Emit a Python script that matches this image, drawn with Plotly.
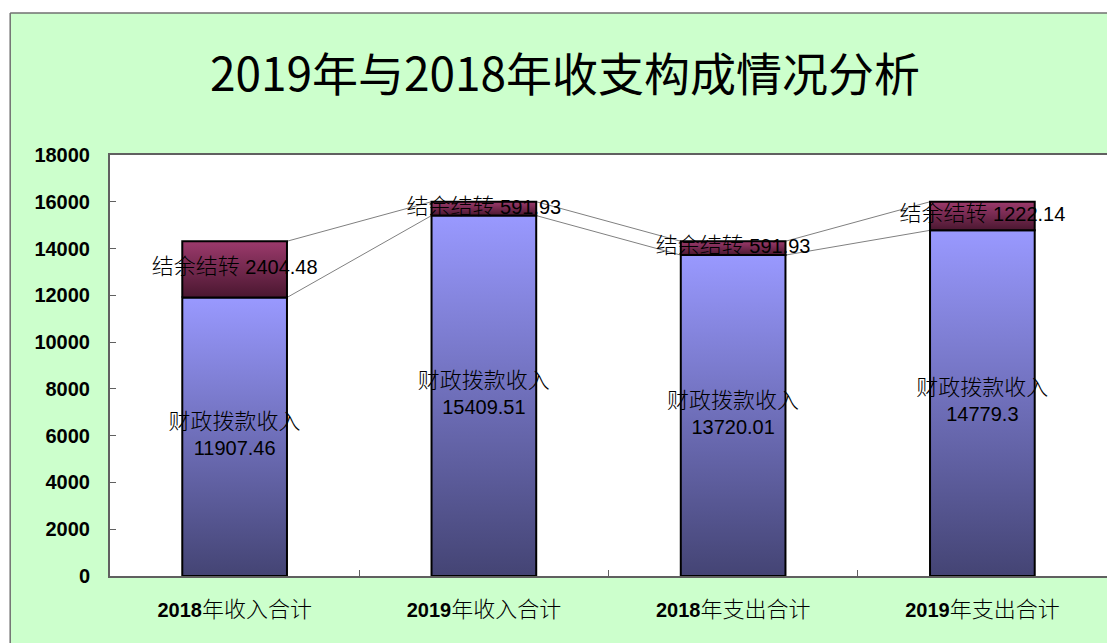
import plotly.graph_objects as go

categories = ["2018年收入合计", "2019年收入合计", "2018年支出合计", "2019年支出合计"]
years = ["2018", "2019", "2018", "2019"]
cat_rest = ["年收入合计", "年收入合计", "年支出合计", "年支出合计"]
base_values = [11907.46, 15409.51, 13720.01, 14779.3]
top_values = [2404.48, 591.93, 591.93, 1222.14]
base_name = "财政拨款收入"
top_name = "结余结转"
y_ticks = [0, 2000, 4000, 6000, 8000, 10000, 12000, 14000, 16000, 18000]
y_tick_text = [str(v) for v in y_ticks]

HALF = 0.21
OFF = 8  # page body margin
W, H = 1115 - OFF, 643 - OFF
L, T = 110 - OFF, 155 - OFF
R = W - (1109 - OFF)
B = H - (576 - OFF)
pw, ph = W - L - R, H - T - B

def px_x(p):  # reference page pixel -> paper x
    return (p - OFF - L) / pw

def px_y(p):  # reference page pixel -> paper y
    return (H - B - (p - OFF)) / ph

fig = go.Figure()

# series lines between bars
for i in range(len(categories) - 1):
    for level in ("base", "total"):
        if level == "base":
            ya, yb = base_values[i], base_values[i + 1]
        else:
            ya, yb = base_values[i] + top_values[i], base_values[i + 1] + top_values[i + 1]
        fig.add_trace(go.Scatter(x=[i + HALF, i + 1 - HALF], y=[ya, yb], mode="lines",
                                 line=dict(color="#808080", width=1), hoverinfo="skip",
                                 showlegend=False))

# bars as gradient-filled polygons
for i, (b, t) in enumerate(zip(base_values, top_values)):
    fig.add_trace(go.Scatter(
        x=[i - HALF, i + HALF, i + HALF, i - HALF, i - HALF],
        y=[0, 0, b, b, 0], mode="lines", fill="toself",
        fillgradient=dict(type="vertical", start=0, stop=b,
                          colorscale=[[0, "#444474"], [1, "#9999FF"]]),
        line=dict(color="black", width=2), hoverinfo="skip", showlegend=False))
    fig.add_trace(go.Scatter(
        x=[i - HALF, i + HALF, i + HALF, i - HALF, i - HALF],
        y=[b, b, b + t, b + t, b], mode="lines", fill="toself",
        fillgradient=dict(type="vertical", start=b, stop=b + t,
                          colorscale=[[0, "#4a1730"], [1, "#9c3a6c"]]),
        line=dict(color="black", width=2), hoverinfo="skip", showlegend=False))

cjk = "font-family:Noto Sans CJK SC;font-weight:300;font-size:22px"
base_text = [f"<span style='{cjk}'>{base_name}</span><br>{v}" for v in base_values]
top_text = [f"<span style='{cjk}'>{top_name}</span> {v}" for v in top_values]

fig.add_trace(go.Scatter(x=list(range(4)), y=[b / 2 for b in base_values], mode="text",
                         text=base_text, textposition="middle center",
                         textfont=dict(family="Liberation Sans, Arial, Noto Sans CJK SC", size=20, color="black"),
                         hoverinfo="skip", showlegend=False))
fig.add_trace(go.Scatter(x=list(range(4)), y=[b + t / 2 for b, t in zip(base_values, top_values)],
                         mode="text", text=top_text, textposition="middle center",
                         textfont=dict(family="Liberation Sans, Arial, Noto Sans CJK SC", size=20, color="black"),
                         hoverinfo="skip", showlegend=False))

tick_text = [f"<b>{y}</b><span style='font-weight:300;font-size:22px'>{r}</span>"
             for y, r in zip(years, cat_rest)]

fig.update_layout(
    width=W, height=H,
    margin=dict(l=L, r=R, t=T, b=B),
    paper_bgcolor="#CCFFCC", plot_bgcolor="white",
    title=dict(text="2019年与2018年收支构成情况分析", x=(565 - OFF) / W, xref="container",
               y=1 - (75 - OFF) / H, yref="container", xanchor="center", yanchor="middle",
               font=dict(family="Noto Sans CJK SC", size=46, color="black")),
    xaxis=dict(range=[-0.5, 3.5], tickvals=list(range(4)), ticktext=tick_text, ticks="",
               showgrid=False, zeroline=False, showline=True, linecolor="#606060", linewidth=2,
               mirror=True, ticklabelstandoff=15,
               tickfont=dict(family="Liberation Sans, Arial, Noto Sans CJK SC", size=20, color="black"),
               minor=dict(tickmode="array", tickvals=[0.5, 1.5, 2.5], ticks="inside", ticklen=6,
                          tickcolor="#606060", showgrid=False)),
    yaxis=dict(range=[0, 18000], tickvals=y_ticks, ticktext=y_tick_text, ticks="inside", ticklen=6,
               tickcolor="#606060",
               showgrid=False, zeroline=False, showline=True, linecolor="#606060", linewidth=2,
               mirror=True, ticklabelstandoff=14,
               tickfont=dict(family="Liberation Sans, Arial", size=20, color="black", weight="bold")),
    shapes=[
        dict(type="rect", xref="paper", yref="paper", x0=px_x(-20), x1=px_x(1130),
             y0=px_y(13), y1=px_y(-20), fillcolor="white", line=dict(width=0), layer="below"),
        dict(type="rect", xref="paper", yref="paper", x0=px_x(-20), x1=px_x(10),
             y0=px_y(660), y1=px_y(-20), fillcolor="white", line=dict(width=0), layer="below"),
        dict(type="line", xref="paper", yref="paper", x0=px_x(10), x1=px_x(1130),
             y0=px_y(13), y1=px_y(13), line=dict(color="#707070", width=1.5)),
        dict(type="line", xref="paper", yref="paper", x0=px_x(10), x1=px_x(10),
             y0=px_y(13), y1=px_y(660), line=dict(color="#707070", width=1.5)),
    ],
)

fig.write_html("out.html")
